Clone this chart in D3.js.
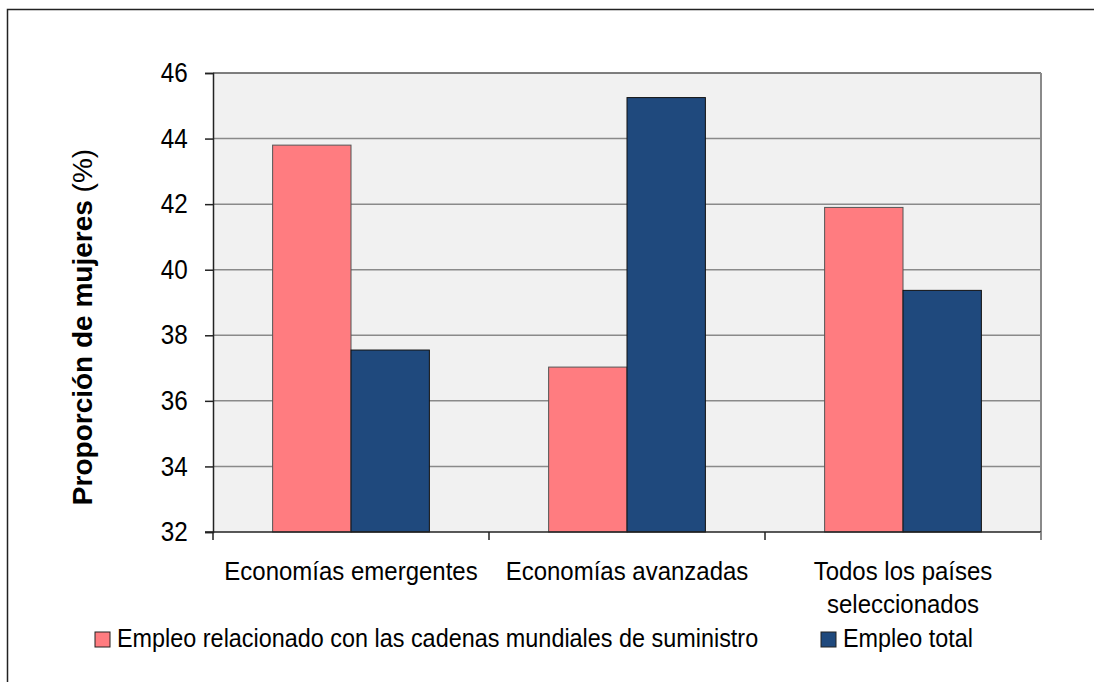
<!DOCTYPE html>
<meta charset="utf-8">
<script src="https://d3js.org/d3.v7.min.js"></script>
<style>
  body { margin: 0; background: #fff; overflow: hidden; }
  text { font-family: "Liberation Sans", Arial, sans-serif; }
</style>
<div id="chart"></div>
<script>

// data
var categories = ["Economías emergentes", "Economías avanzadas", "Todos los países seleccionados"];
var catLines = [["Economías emergentes"], ["Economías avanzadas"], ["Todos los países", "seleccionados"]];
var seriesNames = ["Empleo relacionado con las cadenas mundiales de suministro", "Empleo total"];
var gvcValues = [43.8, 37.03, 41.9];
var totalValues = [37.55, 45.25, 39.37];
var yTicks = [32, 34, 36, 38, 40, 42, 44, 46];
var colors = ["#FF7C80", "#1F497D"];

var W = 1094, H = 682;
var margin = {top: 73, right: 53, bottom: 150, left: 213};
var width = W - margin.left - margin.right,
    height = H - margin.top - margin.bottom;

var svg = d3.select("#chart").append("svg")
  .attr("width", W)
  .attr("height", H)
  .style("display", "block");

// outer frame: only the left and top edges fall inside the picture
svg.append("path")
  .attr("d", "M7.5," + H + "V9.5H" + W)
  .attr("fill", "none")
  .attr("stroke", "#222")
  .attr("stroke-width", 1.5);

var g = svg.append("g")
  .attr("transform", "translate(" + margin.left + "," + margin.top + ")");

var x0 = d3.scaleBand().domain(categories).range([0, width]).padding(0);
var gap = x0.bandwidth() * 0.216;
var x1 = d3.scaleBand().domain(seriesNames).range([gap, x0.bandwidth() - gap]).padding(0);
var y = d3.scaleLinear().domain([32, 46]).range([height, 0]);

// plot background
g.append("rect")
  .attr("width", width).attr("height", height)
  .attr("fill", "#F1F1F1");

// gridlines
g.selectAll(".grid")
  .data(yTicks.slice(1))
  .enter().append("line")
    .attr("x1", 0).attr("x2", width)
    .attr("y1", function(d) { return y(d); })
    .attr("y2", function(d) { return y(d); })
    .attr("stroke", function(d) { return d == 46 ? "#555" : "#8a8a8a"; })
    .attr("stroke-width", 1.5);

// right edge of plot
g.append("line")
  .attr("x1", width).attr("x2", width)
  .attr("y1", 0).attr("y2", height + 8)
  .attr("stroke", "#8a8a8a").attr("stroke-width", 2);

// bars
var rows = categories.map(function(c, i) {
  return [{cat: c, s: seriesNames[0], v: gvcValues[i], k: 0},
          {cat: c, s: seriesNames[1], v: totalValues[i], k: 1}];
});

g.selectAll(".grp")
  .data(rows)
  .enter().append("g")
    .attr("transform", function(d) { return "translate(" + x0(d[0].cat) + ",0)"; })
  .selectAll("rect")
  .data(function(d) { return d; })
  .enter().append("rect")
    .attr("x", function(d) { return x1(d.s); })
    .attr("y", function(d) { return y(d.v); })
    .attr("width", x1.bandwidth())
    .attr("height", function(d) { return height - y(d.v); })
    .attr("fill", function(d) { return colors[d.k]; })
    .attr("stroke", function(d) { return d.k == 0 ? "#555" : "#111"; })
    .attr("stroke-width", 1);

// y axis
var yAxis = g.append("g")
  .call(d3.axisLeft(y).tickValues(yTicks).tickSize(8).tickPadding(18).tickFormat(d3.format("d")));
yAxis.select(".domain").attr("stroke", "#222").attr("stroke-width", 1.5);
yAxis.selectAll(".tick line").attr("stroke", "#222").attr("stroke-width", 1.5);
yAxis.selectAll("text")
  .style("font-size", "25px")
  .attr("fill", "#000")
  .attr("transform", "scale(0.97,1.08)");

// x axis
var xAxisG = g.append("g").attr("transform", "translate(0," + height + ")");
xAxisG.append("line")
  .attr("x1", -8).attr("x2", width)
  .attr("stroke", "#222").attr("stroke-width", 1.5);
xAxisG.selectAll(".xtick")
  .data(d3.range(categories.length + 1))
  .enter().append("line")
    .attr("x1", function(i) { return i * x0.step(); })
    .attr("x2", function(i) { return i * x0.step(); })
    .attr("y1", 0).attr("y2", 8)
    .attr("stroke", function(i) { return i == categories.length ? "#8a8a8a" : "#222"; })
    .attr("stroke-width", 1.5);

var labs = xAxisG.selectAll(".xlab")
  .data(categories)
  .enter().append("text")
    .attr("text-anchor", "middle")
    .attr("transform", function(d) { return "translate(" + (x0(d) + x0.bandwidth() / 2) + ",48) scale(1,1.08)"; })
    .style("font-size", "24px")
    .attr("fill", "#000");
labs.selectAll("tspan")
  .data(function(d, i) { return catLines[i]; })
  .enter().append("tspan")
    .attr("x", 0)
    .attr("dy", function(d, i) { return i == 0 ? 0 : 30.5; })
    .text(function(d) { return d; });

// y title
var yt = svg.append("text")
  .attr("transform", "translate(92,327) rotate(-90)")
  .attr("text-anchor", "middle")
  .style("font-size", "28px")
  .attr("fill", "#000");
yt.append("tspan").style("font-weight", "bold").text("Proporción de mujeres ");
yt.append("tspan").text("(%)");

// legend
var legendX = [95, 821];
var leg = svg.selectAll(".leg")
  .data(seriesNames)
  .enter().append("g")
    .attr("transform", function(d, i) { return "translate(" + legendX[i] + ",632)"; });
leg.append("rect")
  .attr("width", 15).attr("height", 15)
  .attr("fill", function(d, i) { return colors[i]; })
  .attr("stroke", "#222").attr("stroke-width", 1);
leg.append("text")
  .attr("transform", "translate(22,15) scale(0.975,1.08)")
  .style("font-size", "24px")
  .attr("fill", "#000")
  .text(function(d) { return d; });

</script>
